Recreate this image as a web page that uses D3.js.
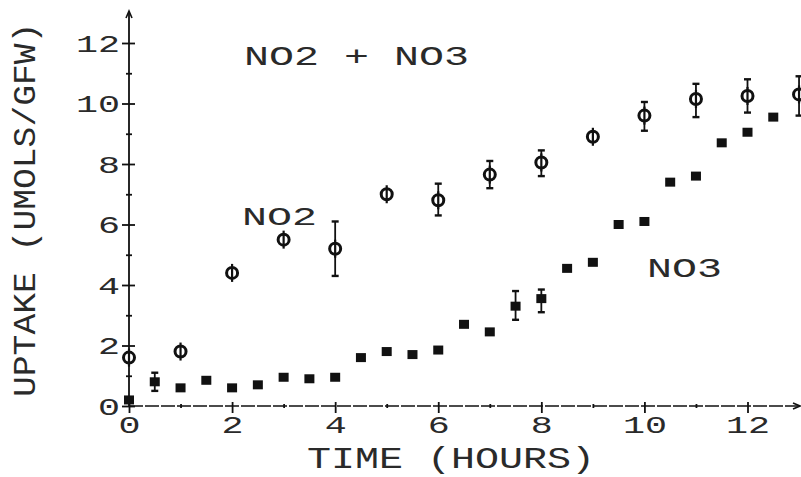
<!DOCTYPE html>
<html>
<head>
<meta charset="utf-8">
<script src="https://cdn.jsdelivr.net/npm/d3@7"></script>
<style>
  body { margin: 0; background: #fff; }
  svg text { font-family: "Liberation Mono", "DejaVu Sans Mono", monospace; fill: #2a2a2a; }
</style>
</head>
<body>
<div id="chart"></div>
<script>
// values
var hoursTotal  = [0, 1, 2, 3, 4, 5, 6, 7, 8, 9, 10, 11, 12, 13];
var uptakeTotal = [1.6, 1.8, 4.4, 5.5, 5.2, 7.0, 6.8, 7.65, 8.05, 8.9, 9.6, 10.15, 10.25, 10.3];
var totalLow    = [null, null, null, null, 4.3, null, 6.3, 7.2, 7.6, null, 9.1, 9.55, 9.7, 9.6];
var totalHigh   = [null, null, null, null, 6.1, null, 7.35, 8.1, 8.45, null, 10.05, 10.65, 10.8, 10.9];

var hoursNO3  = [0, 0.5, 1, 1.5, 2, 2.5, 3, 3.5, 4, 4.5, 5, 5.5, 6, 6.5, 7, 7.5, 8, 8.5, 9, 9.5, 10, 10.5, 11, 11.5, 12, 12.5];
var uptakeNO3 = [0.2, 0.8, 0.6, 0.85, 0.6, 0.7, 0.95, 0.9, 0.95, 1.6, 1.8, 1.7, 1.85, 2.7, 2.45, 3.3, 3.55, 4.55, 4.75, 6.0, 6.1, 7.4, 7.6, 8.7, 9.05, 9.55];
var no3Low    = [null, 0.5, null, null, null, null, null, null, null, null, null, null, null, null, null, 2.85, 3.1, null, null, null, null, null, null, null, null, null];
var no3High   = [null, 1.1, null, null, null, null, null, null, null, null, null, null, null, null, null, 3.8, 3.85, null, null, null, null, null, null, null, null, null];

var xTicks = [0, 1, 2, 3, 4, 5, 6, 7, 8, 9, 10, 11, 12];
var yTicks = [0, 1, 2, 3, 4, 5, 6, 7, 8, 9, 10, 11, 12];

var xTitle = "TIME (HOURS)";
var yTitle = "UPTAKE (UMOLS/GFW)";
var labelTotal = "NO2 + NO3";
var labelNO2 = "NO2";
var labelNO3 = "NO3";

// sizes
var W = 801, H = 477;

var svg = d3.select("#chart").append("svg")
    .attr("width", W)
    .attr("height", H);

var x = d3.scaleLinear().domain([0, 12]).range([129, 747.5]);
var y = d3.scaleLinear().domain([0, 12]).range([406, 43]);

// stretched mono text, like the plotter font
function plotText(sel, str, perChar) {
    sel.text(str)
        .attr("textLength", str.length * perChar)
        .attr("lengthAdjust", "spacingAndGlyphs");
}

// x axis
var xAxis = svg.append("g")
    .attr("transform", "translate(0," + y(0) + ")")
    .call(d3.axisBottom(x).tickValues(xTicks).tickSize(0)
        .tickFormat(function(d) { return d % 2 ? "" : d; }));
xAxis.select(".domain").remove();
xAxis.append("line")
    .attr("x1", x(0)).attr("x2", 799)
    .attr("stroke", "#111").attr("stroke-width", 1.6)
    .attr("stroke-dasharray", "14,2");
xAxis.append("path")
    .attr("d", "M793,-3L800,0L793,3")
    .attr("fill", "none").attr("stroke", "#111").attr("stroke-width", 1.6);
xAxis.selectAll(".tick line")
    .attr("stroke", "#111").attr("stroke-width", 1.8)
    .attr("y1", function(d) { return d % 2 ? -2 : -4; })
    .attr("y2", function(d) { return d % 2 ? 2 : 7; });
xAxis.selectAll(".tick text").each(function(d) {
    var t = d3.select(this);
    if (d % 2) return;
    plotText(t, String(d), 22);
    t.attr("y", 27).attr("dy", null).attr("font-size", 23).attr("fill", "#2a2a2a");
});

// y axis
var yAxis = svg.append("g")
    .attr("transform", "translate(" + x(0) + ",0)")
    .call(d3.axisLeft(y).tickValues(yTicks).tickSize(0)
        .tickFormat(function(d) { return d % 2 ? "" : d; }));
yAxis.select(".domain").remove();
yAxis.append("line")
    .attr("y1", y(0)).attr("y2", 12)
    .attr("stroke", "#111").attr("stroke-width", 1.8);
yAxis.append("path")
    .attr("d", "M-3,18L0,11L3,18")
    .attr("fill", "none").attr("stroke", "#111").attr("stroke-width", 1.6);
yAxis.selectAll(".tick line")
    .attr("stroke", "#111").attr("stroke-width", 1.8)
    .attr("x1", function(d) { return d % 2 ? -3 : -7; })
    .attr("x2", function(d) { return d % 2 ? 3 : 6; });
yAxis.selectAll(".tick text").each(function(d) {
    var t = d3.select(this);
    if (d % 2) return;
    plotText(t, String(d), 22);
    t.attr("x", -9).attr("dy", 8).attr("font-size", 23).attr("fill", "#2a2a2a");
});

// axis titles
plotText(svg.append("text")
    .attr("x", 307).attr("y", 468)
    .attr("font-size", 30), xTitle, 24);

plotText(svg.append("text")
    .attr("transform", "translate(35,397) rotate(-90)")
    .attr("font-size", 32), yTitle, 20.8);

// curve labels
plotText(svg.append("text").attr("x", 244).attr("y", 65).attr("font-size", 27), labelTotal, 25);
plotText(svg.append("text").attr("x", 242).attr("y", 225).attr("font-size", 26), labelNO2, 25);
plotText(svg.append("text").attr("x", 647).attr("y", 277).attr("font-size", 28), labelNO3, 25);

// error bars
function errorBars(hours, low, high) {
    var idx = d3.range(hours.length).filter(function(i) { return low[i] != null; });
    var g = svg.append("g").attr("stroke", "#111").attr("stroke-width", 1.8);
    g.selectAll("line.bar").data(idx).enter().append("line")
        .attr("x1", function(i) { return x(hours[i]); })
        .attr("x2", function(i) { return x(hours[i]); })
        .attr("y1", function(i) { return y(low[i]); })
        .attr("y2", function(i) { return y(high[i]); });
    g.selectAll("line.lo").data(idx).enter().append("line")
        .attr("x1", function(i) { return x(hours[i]) - 3.5; })
        .attr("x2", function(i) { return x(hours[i]) + 3.5; })
        .attr("y1", function(i) { return y(low[i]); })
        .attr("y2", function(i) { return y(low[i]); })
        .attr("stroke-width", 2.4);
    g.selectAll("line.hi").data(idx).enter().append("line")
        .attr("x1", function(i) { return x(hours[i]) - 3.5; })
        .attr("x2", function(i) { return x(hours[i]) + 3.5; })
        .attr("y1", function(i) { return y(high[i]); })
        .attr("y2", function(i) { return y(high[i]); })
        .attr("stroke-width", 2.4);
}
errorBars(hoursTotal, totalLow, totalHigh);
errorBars(hoursNO3, no3Low, no3High);

// NO3 squares
svg.append("g").selectAll("rect")
    .data(d3.range(hoursNO3.length))
    .enter().append("rect")
    .attr("x", function(i) { return x(hoursNO3[i]) - 5; })
    .attr("y", function(i) { return y(uptakeNO3[i]) - 4.5; })
    .attr("width", 10)
    .attr("height", 9)
    .attr("fill", "#111");

// NO2 + NO3 circles
var circ = svg.append("g").selectAll("g")
    .data(d3.range(hoursTotal.length))
    .enter().append("g")
    .attr("transform", function(i) { return "translate(" + x(hoursTotal[i]) + "," + y(uptakeTotal[i]) + ")"; });
circ.append("line")
    .attr("y1", -9).attr("y2", 9)
    .attr("stroke", "#111").attr("stroke-width", 2.2);
circ.append("circle")
    .attr("r", 5.5)
    .attr("fill", "#fff")
    .attr("stroke", "#111")
    .attr("stroke-width", 3);
circ.append("line")
    .attr("y1", -5).attr("y2", 5)
    .attr("stroke", "#111").attr("stroke-width", 2.2);
</script>
</body>
</html>
